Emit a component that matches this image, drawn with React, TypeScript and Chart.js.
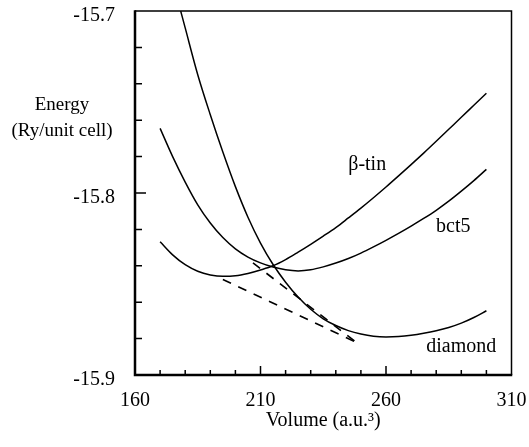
import React, { useEffect, useRef } from 'react';
import { Chart, registerables } from 'chart.js';

Chart.register(...registerables);

// ---- data ----
const volumes = [170, 175, 180, 185, 190, 195, 200, 205, 210, 215, 220, 225, 230, 235, 240, 245, 250, 255, 260, 265, 270, 275, 280, 285, 290, 295, 300];

const betaTinEnergy = [
  -15.8268, -15.834, -15.8394, -15.843, -15.845, -15.8458, -15.8455, -15.8442, -15.8423, -15.84,
  -15.8366, -15.8325, -15.8282, -15.8237, -15.819, -15.8137, -15.8083, -15.8026, -15.7967, -15.7906,
  -15.7844, -15.7781, -15.7716, -15.765, -15.7584, -15.7518, -15.7452,
];

const bct5Energy = [
  -15.7645, -15.78, -15.794, -15.8065, -15.8165, -15.8245, -15.8307, -15.8352, -15.8384, -15.8407,
  -15.8422, -15.8428, -15.8422, -15.8406, -15.8385, -15.836, -15.833, -15.8296, -15.826, -15.8222,
  -15.8182, -15.814, -15.8095, -15.8045, -15.799, -15.7932, -15.787,
];

const diamondVolumes = [178.2, 180, 185, 190, 195, 200, 205, 210, 215, 220, 225, 230, 235, 240, 245, 250, 255, 260, 265, 270, 275, 280, 285, 290, 295, 300];
const diamondEnergy = [
  -15.7, -15.7093, -15.735, -15.757, -15.7775, -15.7965, -15.8133, -15.8275, -15.8393, -15.849,
  -15.8572, -15.8639, -15.8691, -15.8728, -15.8756, -15.8775, -15.8787, -15.8791, -15.8789, -15.8782,
  -15.8771, -15.8757, -15.8739, -15.8715, -15.8684, -15.8647,
];

// common-tangent (dashed) lines
const tangentAVolumes = [195, 248];
const tangentAEnergy = [-15.8475, -15.882];
const tangentBVolumes = [207, 248];
const tangentBEnergy = [-15.8384, -15.8819];

const xTickLabels = [160, 210, 260, 310];
const xMajorTicks = [210, 260];
const yMajorTicks = [-15.8];

const curveNames = ['β-tin', 'bct5', 'diamond'];
const curveNameVolumes = [252.5, 286.8, 290];
const curveNameEnergies = [-15.7846, -15.8187, -15.8846];

const yTitleLines = ['Energy', '(Ry/unit cell)'];
const xTitle = 'Volume (a.u.³)';

const FONT = '"Liberation Serif", "Times New Roman", serif';

const toPoints = (xs: number[], ys: number[]) => xs.map((x, i) => ({ x, y: ys[i] }));

const framePlugin = {
  id: 'frame',
  afterDraw(chart: any) {
    const { ctx, chartArea: a, scales } = chart;
    const x = scales.x;
    const y = scales.y;
    ctx.save();
    ctx.strokeStyle = '#000';
    ctx.lineCap = 'butt';
    // top & right
    ctx.lineWidth = 1.5;
    ctx.beginPath();
    ctx.moveTo(a.left, a.top);
    ctx.lineTo(a.right, a.top);
    ctx.lineTo(a.right, a.bottom);
    ctx.stroke();
    // left & bottom
    ctx.lineWidth = 2.5;
    ctx.beginPath();
    ctx.moveTo(a.left, a.top - 0.75);
    ctx.lineTo(a.left, a.bottom);
    ctx.lineTo(a.right + 0.75, a.bottom);
    ctx.stroke();
    // inward ticks
    ctx.lineWidth = 1.5;
    ctx.beginPath();
    for (const t of x.ticks) {
      if (t.value <= x.min || t.value >= x.max) continue;
      const px = x.getPixelForValue(t.value);
      const len = xMajorTicks.includes(t.value) ? 9 : 5;
      ctx.moveTo(px, a.bottom);
      ctx.lineTo(px, a.bottom - len);
    }
    for (const t of y.ticks) {
      if (t.value <= y.min + 1e-9 || t.value >= y.max - 1e-9) continue;
      const py = y.getPixelForValue(t.value);
      const major = yMajorTicks.some((m) => Math.abs(m - t.value) < 1e-6);
      const len = major ? 11 : 7;
      ctx.moveTo(a.left, py);
      ctx.lineTo(a.left + len, py);
    }
    ctx.stroke();

    // axis title on the left (horizontal text)
    ctx.fillStyle = '#000';
    ctx.font = `19px ${FONT}`;
    ctx.textAlign = 'center';
    ctx.textBaseline = 'alphabetic';
    ctx.fillText(yTitleLines[0], 62, 110);
    ctx.fillText(yTitleLines[1], 62, 136);

    // curve names
    ctx.font = `20px ${FONT}`;
    ctx.textBaseline = 'middle';
    curveNames.forEach((name, i) => {
      ctx.fillText(name, x.getPixelForValue(curveNameVolumes[i]), y.getPixelForValue(curveNameEnergies[i]));
    });
    ctx.restore();
  },
};

const zeroPadding = (s: any) => {
  s.paddingTop = 0;
  s.paddingBottom = 0;
  s.paddingLeft = 0;
  s.paddingRight = 0;
};

export default function App() {
  const ref = useRef<HTMLCanvasElement>(null);

  useEffect(() => {
    const canvas = ref.current;
    if (!canvas) return;
    const solid = (label: string, xs: number[], ys: number[]) => ({
      label,
      data: toPoints(xs, ys),
      showLine: true,
      borderColor: '#000',
      backgroundColor: '#000',
      borderWidth: 1.5,
      pointRadius: 0,
      cubicInterpolationMode: 'monotone' as const,
      fill: false,
    });
    const dashed = (label: string, xs: number[], ys: number[]) => ({
      label,
      data: toPoints(xs, ys),
      showLine: true,
      borderColor: '#000',
      backgroundColor: '#000',
      borderWidth: 1.6,
      borderDash: [9, 8],
      pointRadius: 0,
      fill: false,
    });

    const chart = new Chart(canvas, {
      type: 'scatter',
      data: {
        datasets: [
          solid('β-tin', volumes, betaTinEnergy),
          solid('bct5', volumes, bct5Energy),
          solid('diamond', diamondVolumes, diamondEnergy),
          dashed('tangent A', tangentAVolumes, tangentAEnergy),
          dashed('tangent B', tangentBVolumes, tangentBEnergy),
        ],
      },
      options: {
        responsive: false,
        animation: false,
        layout: { padding: { top: 11, right: 17.5, left: 0, bottom: 0 } },
        plugins: {
          legend: { display: false },
          tooltip: { enabled: false },
        },
        scales: {
          x: {
            type: 'linear',
            min: 160,
            max: 310,
            afterFit: (s: any) => {
              s.height = 72;
              zeroPadding(s);
            },
            grid: { display: false, drawTicks: false },
            border: { display: false },
            ticks: {
              stepSize: 10,
              autoSkip: false,
              maxRotation: 0,
              padding: 14,
              color: '#000',
              font: { family: FONT, size: 20 },
              callback: (v: any) => (xTickLabels.includes(Number(v)) ? String(v) : ''),
            },
            title: {
              display: true,
              text: xTitle,
              color: '#000',
              font: { family: FONT, size: 20 },
              padding: { top: 0, bottom: 14 },
            },
          },
          y: {
            type: 'linear',
            min: -15.9,
            max: -15.7,
            afterFit: (s: any) => {
              s.width = 135;
              zeroPadding(s);
            },
            grid: { display: false, drawTicks: false },
            border: { display: false },
            ticks: {
              stepSize: 0.02,
              autoSkip: false,
              padding: 20,
              labelOffset: 5,
              color: '#000',
              font: { family: FONT, size: 20 },
              callback: (v: any) => {
                const n = Number(v);
                const r = Math.round(n * 10) / 10;
                return Math.abs(n - r) < 1e-6 ? r.toFixed(1) : '';
              },
            },
          },
        },
      },
      plugins: [framePlugin],
    } as any);

    return () => chart.destroy();
  }, []);

  return (
    <canvas
      ref={ref}
      width={529}
      height={447}
      style={{ position: 'absolute', left: 0, top: 0, display: 'block' }}
    />
  );
}
